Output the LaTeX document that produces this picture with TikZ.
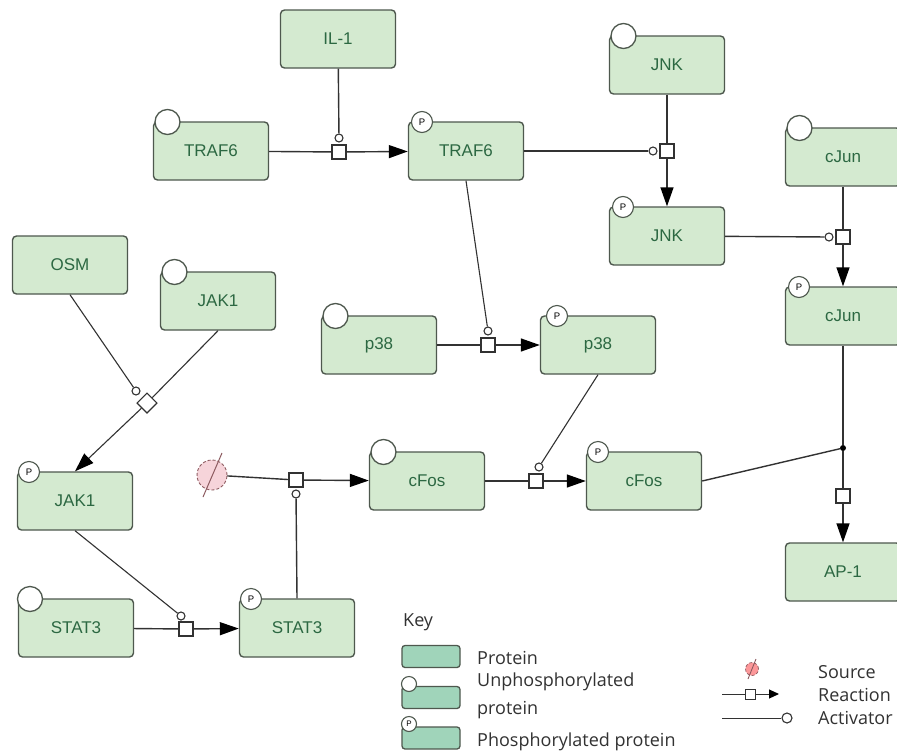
\documentclass[tikz,border=0pt]{standalone}
\usepackage{fontspec}
\setmainfont{Liberation Sans}
\newfontfamily\keyfont{Open Sans}
\usetikzlibrary{arrows.meta}
\definecolor{boxfill}{RGB}{212,234,208}
\definecolor{boxborder}{RGB}{78,88,78}
\definecolor{txtgreen}{RGB}{44,104,66}
\definecolor{linecol}{RGB}{50,50,50}
\definecolor{keyteal}{RGB}{160,212,186}
\definecolor{srcfill}{RGB}{246,212,218}
\definecolor{srcline}{RGB}{140,90,95}
\definecolor{keytxt}{RGB}{50,50,50}
\tikzset{
  prot/.style={draw=boxborder, line width=1.4pt, fill=boxfill, rounded corners=4pt,
    minimum width=115pt, minimum height=58pt, inner sep=0pt,
    font=\fontsize{17}{19}\selectfont, text=txtgreen},
  unph/.style={circle, draw=boxborder, fill=white, line width=1.3pt, minimum size=25pt, inner sep=0pt},
  phos/.style={circle, draw=boxborder, fill=white, line width=1.1pt, minimum size=21pt, inner sep=0pt,
    font=\fontsize{9.5}{9.5}\selectfont, text=black},
  rxn/.style={rectangle, draw=linecol, fill=white, line width=1.2pt, minimum size=14pt, inner sep=0pt},
  actc/.style={circle, draw=linecol, fill=white, line width=1.1pt, minimum size=8pt, inner sep=0pt},
  link/.style={draw=linecol, line width=1.4pt},
  prod/.style={link, -{Triangle[length=19pt,width=13pt,color=black]}},
  keybox/.style={draw=boxborder, line width=1.3pt, fill=keyteal, rounded corners=3pt,
    minimum width=58pt, minimum height=22pt, inner sep=0pt},
  keycirc/.style={circle, draw=boxborder, fill=white, line width=1.1pt, minimum size=15pt, inner sep=0pt,
    font=\fontsize{8}{8}\selectfont},
  keytext/.style={anchor=west, inner sep=0pt, font=\keyfont\fontsize{18}{20}\selectfont, text=keytxt},
}
\begin{document}
\begin{tikzpicture}[x=1pt,y=-1pt]
\clip (0,0) rectangle (897,750);
\fill[white] (0,0) rectangle (897,750);

% ---------- proteins ----------
\node[prot] (il1)    at (338,39)  {IL-1};
\node[prot] (traf6u) at (211,151) {TRAF6};
\node[prot] (traf6p) at (466,151) {TRAF6};
\node[prot] (jnku)   at (667,65)  {JNK};
\node[prot] (jnkp)   at (667,236) {JNK};
\node[prot] (cjunu)  at (843,157) {cJun};
\node[prot] (cjunp)  at (843,316) {cJun};
\node[prot] (ap1)    at (843,572) {AP-1};
\node[prot] (osm)    at (70,265)  {OSM};
\node[prot] (jak1u)  at (218,301) {JAK1};
\node[prot] (jak1p)  at (75,501)  {JAK1};
\node[prot] (p38u)   at (379,345) {p38};
\node[prot] (p38p)   at (598,345) {p38};
\node[prot] (cfosu)  at (427,481) {cFos};
\node[prot] (cfosp)  at (644,481) {cFos};
\node[prot] (stat3u) at (76,628)  {STAT3};
\node[prot] (stat3p) at (297,628) {STAT3};

% ---------- state circles ----------
\node[unph] (traf6uc) at ([xshift=-43.5pt,yshift=29pt]traf6u.center) {};
\node[phos] (traf6pc) at ([xshift=-44pt,yshift=29pt]traf6p.center) {P};
\node[unph] (jnkuc)   at ([xshift=-43.5pt,yshift=29pt]jnku.center) {};
\node[phos] (jnkpc)   at ([xshift=-44pt,yshift=29pt]jnkp.center) {P};
\node[unph] (cjunuc)  at ([xshift=-43.5pt,yshift=29pt]cjunu.center) {};
\node[phos] (cjunpc)  at ([xshift=-44pt,yshift=29pt]cjunp.center) {P};
\node[unph] (jak1uc)  at ([xshift=-43.5pt,yshift=29pt]jak1u.center) {};
\node[phos] (jak1pc)  at ([xshift=-46pt,yshift=29pt]jak1p.center) {P};
\node[unph] (p38uc)   at ([xshift=-43.5pt,yshift=29pt]p38u.center) {};
\node[phos] (p38pc)   at ([xshift=-41pt,yshift=29pt]p38p.center) {P};
\node[unph] (cfosuc)  at ([xshift=-43.5pt,yshift=29pt]cfosu.center) {};
\node[phos] (cfospc)  at ([xshift=-46pt,yshift=29pt]cfosp.center) {P};
\node[unph] (stat3uc) at ([xshift=-46pt,yshift=29pt]stat3u.center) {};
\node[phos] (stat3pc) at ([xshift=-46pt,yshift=29pt]stat3p.center) {P};

% ---------- reactions ----------
\node[rxn] (r1) at (339,152) {};
\node[actc] (a1) at (339,138) {};
\draw[link] (traf6u) -- (r1);
\draw[prod] (r1) -- (traf6p);
\draw[link] (il1) -- (a1);

\node[rxn] (r2) at (667,151) {};
\node[actc] (a2) at (653,151) {};
\draw[link] (jnku) -- (r2);
\draw[prod] (r2) -- (jnkp);
\draw[link] (traf6p) -- (a2);

\node[rxn] (r3) at (843,237) {};
\node[actc] (a3) at (829,237) {};
\draw[link] (cjunu) -- (r3);
\draw[prod] (r3) -- (cjunp);
\draw[link] (jnkp) -- (a3);

\node[rxn] (r4) at (488,345) {};
\node[actc] (a4) at (488,331) {};
\draw[link] (p38u) -- (r4);
\draw[prod] (r4) -- (p38p);
\draw[link, line width=1.1pt] (traf6p.south) -- (a4);

\node[rxn, rotate=45] (r5) at (147,403) {};
\node[actc] (a5) at (136,391) {};
\draw[link, line width=1.1pt] (jak1u.south) -- (r5);
\draw[prod, line width=1.1pt] (r5) -- (jak1p.north);
\draw[link, line width=1.1pt] (osm.south) -- (a5);

\node[circle, draw=srcline, densely dashed, fill=srcfill, line width=0.9pt, minimum size=30pt, inner sep=0pt] (src) at (212,475) {};
\draw[srcline, line width=1pt] ([xshift=-9pt,yshift=-22pt]src.center) -- ([xshift=10pt,yshift=22pt]src.center);
\node[rxn] (r6) at (296,480) {};
\node[actc] (a6) at (296,494) {};
\draw[link] (src) -- (r6);
\draw[prod] (r6) -- (cfosu);
\draw[link] (stat3p.north) -- (a6);

\node[rxn] (r7) at (536,481) {};
\node[actc] (a7) at (539,467) {};
\draw[link] (cfosu) -- (r7);
\draw[prod] (r7) -- (cfosp);
\draw[link, line width=1.1pt] (p38p.south) -- (a7);

\node[rxn] (r8) at (186,629) {};
\node[actc] (a8) at (181,616) {};
\draw[link] (stat3u) -- (r8);
\draw[prod] (r8) -- (stat3p);
\draw[link, line width=1.1pt] (jak1p.south) -- (a8);

\node[circle, fill=black, minimum size=6pt, inner sep=0pt] (join) at (843,448) {};
\node[rxn] (r9) at (843,496) {};
\draw[link] (cjunp) -- (join);
\draw[link] (cfosp.east) -- (join);
\draw[link] (join) -- (r9);
\draw[prod] (r9) -- (ap1);

% ---------- key ----------
\node[keytext] (keyt) at (403,622) {Key};
\node[keybox] (kprot) at (431,656.5) {};
\node[keytext] (kprott) at (477,658) {Protein};
\node[keybox] (kunph) at (431,697.5) {};
\node[keycirc] (kunphc) at (409,684) {};
\node[keytext] (kunpht1) at (477,682) {Unphosphorylated};
\node[keytext] (kunpht2) at (477,710) {protein};
\node[keybox] (kphos) at (431,738) {};
\node[keycirc] (kphosc) at (409,724) {P};
\node[keytext] (kphost) at (477,742) {Phosphorylated protein};

\node[circle, draw=srcline, densely dashed, fill=srcfill!50!red!70, line width=0.7pt, minimum size=13pt, inner sep=0pt] (ksrc) at (752,669) {};
\draw[srcline, line width=0.9pt] ([xshift=-4pt,yshift=-10pt]ksrc.center) -- ([xshift=4pt,yshift=10pt]ksrc.center);
\coordinate (kr1) at (722,694);
\node[rxn, minimum size=10pt, line width=1pt] (ksq) at (750,694) {};
\coordinate (kr2) at (779,694);
\draw[link, line width=1pt] (kr1) -- (ksq);
\draw[link, line width=1pt, -{Triangle[length=10pt,width=9pt,color=black]}] (ksq) -- (kr2);
\coordinate (ka1) at (722,718);
\node[actc, minimum size=10pt] (kac) at (787,718) {};
\draw[link, line width=1pt] (ka1) -- (kac);
\node[keytext] (ksrct) at (818,672) {Source};
\node[keytext] (krxnt) at (818,695) {Reaction};
\node[keytext] (kactt) at (818,718) {Activator};
\end{tikzpicture}
\end{document}
